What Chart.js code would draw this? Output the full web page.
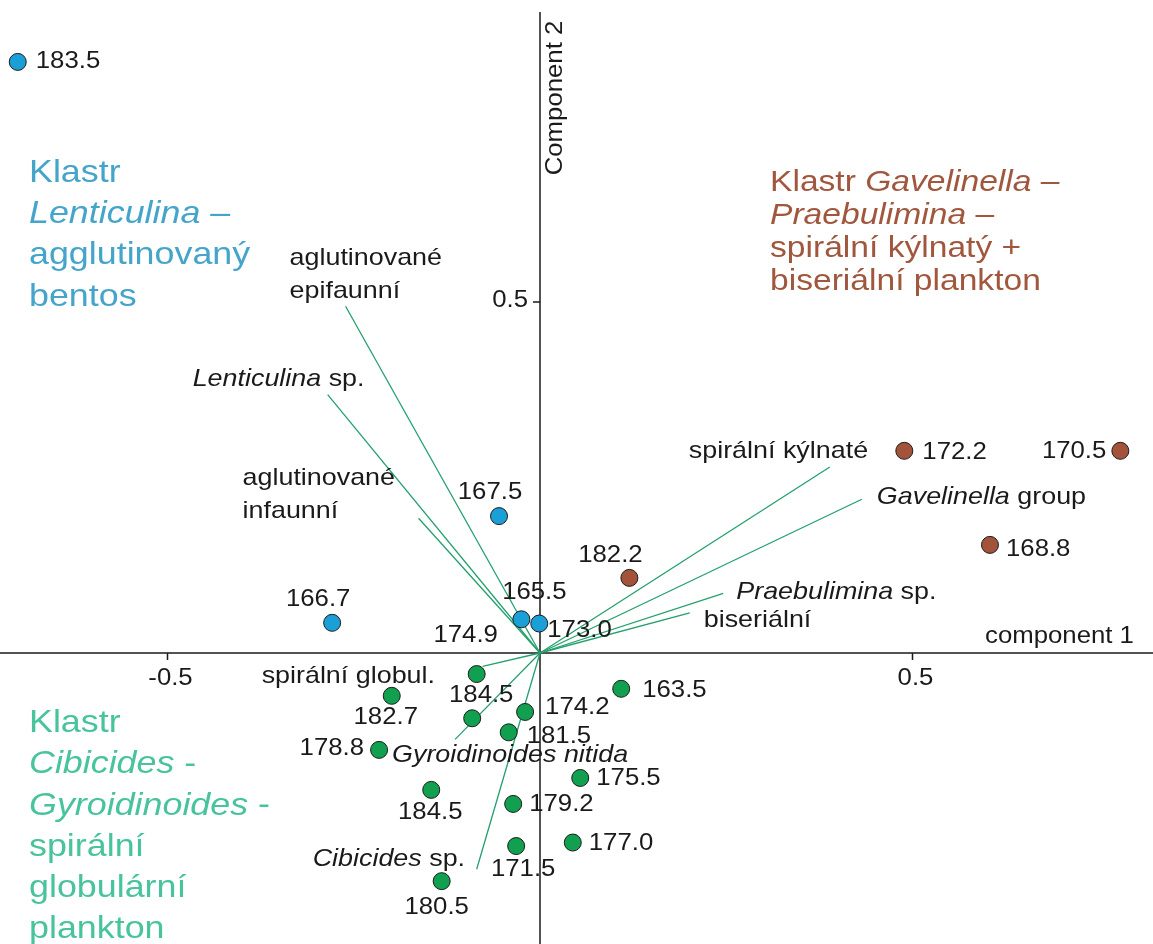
<!DOCTYPE html>
<html>
<head>
<meta charset="utf-8">
<script src="https://cdn.jsdelivr.net/npm/chart.js@4.4.0/dist/chart.umd.min.js"></script>
<style>
  body { margin: 0; background: #fff; }
  canvas { display: block; }
</style>
</head>
<body>
<canvas id="pcaChart" width="1153" height="944"></canvas>
<script>
// Sample scores (component 1 / component 2)
const blueSamples = ['183.5', '167.5', '166.7', '165.5', '173.0'];
const blueX = [-0.701, -0.055, -0.279, -0.025, -0.001];
const blueY = [0.842, 0.195, 0.043, 0.048, 0.042];

const brownSamples = ['172.2', '170.5', '168.8', '182.2'];
const brownX = [0.489, 0.779, 0.604, 0.120];
const brownY = [0.288, 0.288, 0.154, 0.107];

const greenSamples = ['174.9', '182.7', '184.5', '174.2', '181.5', '163.5', '178.8',
    '175.5', '184.5', '179.2', '177.0', '171.5', '180.5'];
const greenX = [-0.085, -0.199, -0.091, -0.020, -0.042, 0.109, -0.216,
    0.054, -0.146, -0.036, 0.044, -0.032, -0.132];
const greenY = [-0.030, -0.061, -0.093, -0.084, -0.113, -0.051, -0.138,
    -0.178, -0.195, -0.215, -0.270, -0.275, -0.325];

// Variable loadings (*...* = italic)
const vectorNames = ['aglutinované\nepifaunní', '*Lenticulina* sp.', 'aglutinované\ninfaunní',
    'spirální kýlnaté', '*Gavelinella* group', '*Praebulimina* sp.', 'biseriální',
    'spirální globul.', '*Gyroidinoides nitida*', '*Cibicides* sp.'];
const vectorX = [-0.261, -0.285, -0.163, 0.389, 0.432, 0.246, 0.201, -0.077, -0.114, -0.085];
const vectorY = [0.494, 0.368, 0.192, 0.265, 0.219, 0.085, 0.057, -0.019, -0.123, -0.308];

const xTicks = [-0.5, 0.5];
const xTickLabels = ['-0.5', '0.5'];
const yTicks = [0.5];
const yTickLabels = ['0.5'];

// label placement (pixel offsets from the mark, alignment)
const blueLabelPos = [[18, 0, 'left'], [-9, -23, 'center'], [-14, -23, 'center'], [13, -27, 'center'], [8, 7, 'left']];
const brownLabelPos = [[18, 2, 'left'], [-14, 1, 'right'], [16, 5, 'left'], [-19, -22, 'center']];
const greenLabelPos = [[-11, -38, 'center'], [-6, 22, 'center'], [9, -23, 'center'], [20, -4, 'left'],
    [18, 4, 'left'], [21, 2, 'left'], [-15, -1, 'right'], [16, 1, 'left'], [-1, 23, 'center'],
    [16, 1, 'left'], [16, 1, 'left'], [7, 24, 'center'], [-5, 27, 'center']];
const vectorLabelPos = [[-56, -48], [-135, -15], [-176, -40], [-141, -16], [15, -2],
    [13, -1], [14, 7], [-221, 10], [-63, 16], [-164, -10]];

const clusterTitles = [
    { lines: ['Klastr', '*Lenticulina* –', 'agglutinovaný', 'bentos'], x: 29, y: 173, color: '#45a4ca', size: 32 },
    { lines: ['Klastr *Gavelinella* –', '*Praebulimina* –', 'spirální kýlnatý +', 'biseriální plankton'], x: 770, y: 183, color: '#a1573d', step: 33, size: 30 },
    { lines: ['Klastr', '*Cibicides* -', '*Gyroidinoides* -', 'spirální', 'globulární', 'plankton'], x: 29, y: 723, color: '#48c39c', size: 32 }
];

const FONT = '"Liberation Sans", Arial, Helvetica, sans-serif';
const STRETCH = 1.12;

function drawRich(ctx, text, x, y, size, color, align) {
    const segs = text.split('*').map((t, i) => ({ t: t, it: i % 2 === 1 })).filter(s => s.t.length);
    ctx.save();
    ctx.translate(x, y);
    ctx.scale(STRETCH, 1);
    ctx.fillStyle = color;
    ctx.textBaseline = 'middle';
    ctx.textAlign = 'left';
    let w = 0;
    segs.forEach(s => {
        ctx.font = (s.it ? 'italic ' : '') + size + 'px ' + FONT;
        s.w = ctx.measureText(s.t).width;
        w += s.w;
    });
    let cx = align === 'center' ? -w / 2 : (align === 'right' ? -w : 0);
    segs.forEach(s => {
        ctx.font = (s.it ? 'italic ' : '') + size + 'px ' + FONT;
        ctx.fillText(s.t, cx, 0);
        cx += s.w;
    });
    ctx.restore();
}

const axesPlugin = {
    id: 'axesPlugin',
    beforeDatasetsDraw(chart) {
        const ctx = chart.ctx;
        const xs = chart.scales.x, ys = chart.scales.y;
        const x0 = xs.getPixelForValue(0), y0 = ys.getPixelForValue(0);
        ctx.save();
        ctx.strokeStyle = '#1a1a1a';
        ctx.lineWidth = 1.5;
        ctx.beginPath();
        ctx.moveTo(0, y0);
        ctx.lineTo(chart.width, y0);
        ctx.moveTo(x0, 12);
        ctx.lineTo(x0, chart.height);
        xTicks.forEach(v => {
            const px = xs.getPixelForValue(v);
            ctx.moveTo(px, y0);
            ctx.lineTo(px, y0 + 7);
        });
        yTicks.forEach(v => {
            const py = ys.getPixelForValue(v);
            ctx.moveTo(x0 - 7, py);
            ctx.lineTo(x0, py);
        });
        ctx.stroke();
        ctx.restore();

        xTicks.forEach((v, i) => {
            drawRich(ctx, xTickLabels[i], xs.getPixelForValue(v) + 3, y0 + 26, 23, '#1a1a1a', 'center');
        });
        yTicks.forEach((v, i) => {
            drawRich(ctx, yTickLabels[i], x0 - 12, ys.getPixelForValue(v) - 1, 23, '#1a1a1a', 'right');
        });
        drawRich(ctx, 'component 1', 985, y0 - 16, 23, '#1a1a1a', 'left');
        ctx.save();
        ctx.translate(x0 + 16, 98);
        ctx.rotate(-Math.PI / 2);
        drawRich(ctx, 'Component 2', 0, 0, 23, '#1a1a1a', 'center');
        ctx.restore();
    },
    afterDatasetsDraw(chart) {
        const ctx = chart.ctx;
        const xs = chart.scales.x, ys = chart.scales.y;
        const groups = [
            [blueSamples, blueX, blueY, blueLabelPos],
            [brownSamples, brownX, brownY, brownLabelPos],
            [greenSamples, greenX, greenY, greenLabelPos]
        ];
        groups.forEach(g => {
            g[0].forEach((name, i) => {
                const p = g[3][i];
                drawRich(ctx, name, xs.getPixelForValue(g[1][i]) + p[0], ys.getPixelForValue(g[2][i]) + p[1], 23, '#1a1a1a', p[2]);
            });
        });
        vectorNames.forEach((name, i) => {
            const p = vectorLabelPos[i];
            const px = xs.getPixelForValue(vectorX[i]) + p[0];
            const py = ys.getPixelForValue(vectorY[i]) + p[1];
            name.split('\n').forEach((line, j) => {
                drawRich(ctx, line, px, py + j * 33, 24, '#1a1a1a', 'left');
            });
        });
        clusterTitles.forEach(c => {
            c.lines.forEach((line, j) => {
                drawRich(ctx, line, c.x, c.y + j * (c.step || 41.3), c.size, c.color, 'left');
            });
        });
    }
};

const vectorDatasets = vectorNames.map((name, i) => ({
    label: name,
    data: [{ x: 0, y: 0 }, { x: vectorX[i], y: vectorY[i] }],
    showLine: true,
    borderColor: '#23a06c',
    borderWidth: 1.3,
    pointRadius: 0,
    order: 2
}));

function sampleDataset(label, xs, ys, color) {
    return {
        label: label,
        data: xs.map((x, i) => ({ x: x, y: ys[i] })),
        backgroundColor: color,
        borderColor: '#1c1c1c',
        borderWidth: 1,
        pointRadius: 8.5,
        order: 1
    };
}

const ctx = document.getElementById('pcaChart').getContext('2d');
const pcaChart = new Chart(ctx, {
    type: 'scatter',
    data: {
        datasets: vectorDatasets.concat([
            sampleDataset('Lenticulina', blueX, blueY, '#1b9fd7'),
            sampleDataset('Gavelinella', brownX, brownY, '#a2533a'),
            sampleDataset('Cibicides', greenX, greenY, '#10a050')
        ])
    },
    options: {
        responsive: false,
        animation: false,
        devicePixelRatio: 1,
        layout: { padding: 0, autoPadding: false },
        plugins: {
            legend: { display: false },
            tooltip: { enabled: false }
        },
        scales: {
            x: { type: 'linear', min: -540 / 745, max: 613 / 745, display: false },
            y: { type: 'linear', min: -291 / 702, max: 653 / 702, display: false }
        }
    },
    plugins: [axesPlugin]
});
</script>
</body>
</html>
